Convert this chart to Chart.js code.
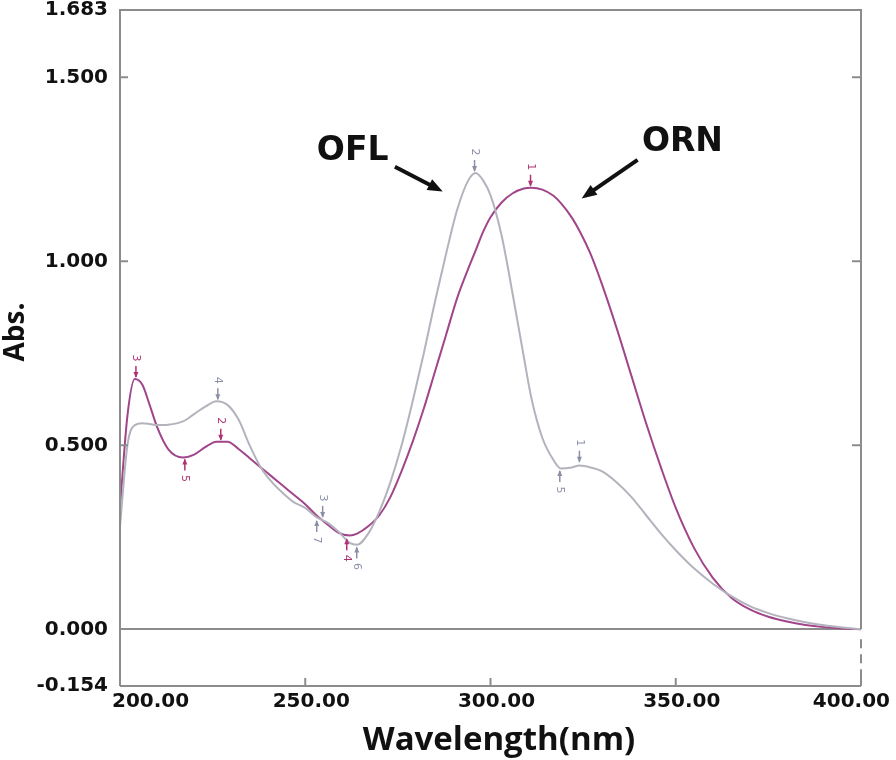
<!DOCTYPE html>
<html>
<head>
<meta charset="utf-8">
<title>OFL / ORN absorption spectra</title>
<script src="https://cdn.jsdelivr.net/npm/chart.js@4.4.1/dist/chart.umd.min.js"></script>
<style>
    html, body { margin: 0; padding: 0; background: #fff; }
    #wrap { width: 896px; height: 760px; position: relative; }
</style>
</head>
<body>
<div id="wrap"><canvas id="spectrumChart"></canvas></div>
<script>
// Wavelength grid (nm) shared by both spectra
const wavelengths = [200, 202, 204, 206, 208, 210, 213, 217, 220, 223, 226, 229, 232, 235, 238, 241, 244, 247, 250, 253,
    256, 259, 262, 264, 267, 270, 273, 276, 279, 282, 285, 288, 291, 294, 296, 298, 300, 303, 306, 309,
    311, 314, 317, 319, 322, 324, 327, 330, 334, 338, 342, 346, 350, 355, 360, 365, 370, 375, 380, 385,
    390, 395, 400];

// OFL (grey trace)
const oflAbs = [0.28, 0.50, 0.555, 0.56, 0.558, 0.555, 0.556, 0.565, 0.585, 0.605, 0.62, 0.61, 0.57, 0.50, 0.44, 0.40, 0.37, 0.345, 0.33, 0.305,
    0.29, 0.265, 0.235, 0.23, 0.26, 0.32, 0.40, 0.50, 0.62, 0.75, 0.89, 1.02, 1.14, 1.22, 1.24, 1.22, 1.18, 1.07, 0.91, 0.74,
    0.63, 0.52, 0.46, 0.437, 0.44, 0.445, 0.44, 0.43, 0.40, 0.36, 0.31, 0.26, 0.215, 0.165, 0.124, 0.09, 0.063, 0.044, 0.03, 0.019,
    0.011, 0.005, 0.0];

// ORN (magenta trace)
const ornAbs = [0.33, 0.58, 0.68, 0.665, 0.61, 0.55, 0.49, 0.467, 0.475, 0.495, 0.51, 0.51, 0.49, 0.465, 0.44, 0.415, 0.39, 0.365, 0.34, 0.31,
    0.285, 0.262, 0.255, 0.26, 0.28, 0.31, 0.36, 0.43, 0.51, 0.60, 0.70, 0.80, 0.90, 0.98, 1.03, 1.08, 1.12, 1.16, 1.185, 1.198,
    1.20, 1.195, 1.178, 1.158, 1.118, 1.083, 1.02, 0.94, 0.82, 0.69, 0.56, 0.44, 0.33, 0.22, 0.14, 0.086, 0.054, 0.034, 0.021, 0.012,
    0.006, 0.002, 0.0];

// Axis ticks
const xTicks = [200, 250, 300, 350, 400];
const yTicks = [-0.154, 0, 0.5, 1.0, 1.5, 1.683];

// Peak / valley picks printed by the instrument
const oflPickLabels = ['1', '2', '3', '4', '5', '6', '7'];
const oflPickWl = [324, 295.7, 254.7, 226.4, 318.7, 263.9, 253.1];
const oflPickAbs = [0.45, 1.24, 0.30, 0.62, 0.436, 0.228, 0.30];
const oflPickType = ['peak', 'peak', 'peak', 'peak', 'valley', 'valley', 'valley'];

const ornPickLabels = ['1', '2', '3', '4', '5'];
const ornPickWl = [310.8, 227.2, 204.3, 261.2, 217.5];
const ornPickAbs = [1.20, 0.51, 0.68, 0.25, 0.467];
const ornPickType = ['peak', 'peak', 'peak', 'valley', 'valley'];

// Callouts (data units)
const calloutText = ['OFL', 'ORN'];
const calloutTextAt = [[262.8, 1.298], [351.8, 1.322]];
const calloutArrowFrom = [[274.2, 1.257], [339.7, 1.276]];
const calloutArrowTo = [[287.1, 1.190], [324.6, 1.171]];

const GREY = '#b3b3bd';
const MAGENTA = '#a1458a';
const FRAME = '#8c8c8c';
const tickFont = { family: '"DejaVu Sans"', size: 20, weight: 'bold' };

function toPoints(ys) {
    return wavelengths.map((w, i) => ({ x: w, y: ys[i] }));
}

// Frame, dashed right edge below zero, inward tick marks and x tick labels
const framePlugin = {
    id: 'frame',
    afterDraw(chart) {
        const { ctx, chartArea: a, scales: { x, y } } = chart;
        const zeroY = y.getPixelForValue(0);
        ctx.save();
        ctx.strokeStyle = FRAME;
        ctx.lineWidth = 2;
        ctx.beginPath();
        ctx.moveTo(a.left, a.bottom);
        ctx.lineTo(a.left, a.top);
        ctx.lineTo(a.right, a.top);
        ctx.lineTo(a.right, zeroY);
        ctx.moveTo(a.left, a.bottom);
        ctx.lineTo(a.right, a.bottom);
        ctx.stroke();

        ctx.setLineDash([9, 6]);
        ctx.beginPath();
        ctx.moveTo(a.right, zeroY + 10);
        ctx.lineTo(a.right, a.bottom);
        ctx.stroke();
        ctx.setLineDash([]);

        ctx.beginPath();
        yTicks.forEach(v => {
            if (v === y.min || v === y.max || v === 0) return;
            const py = y.getPixelForValue(v);
            ctx.moveTo(a.left, py);
            ctx.lineTo(a.left + 8, py);
            ctx.moveTo(a.right, py);
            ctx.lineTo(a.right - 9, py);
        });
        xTicks.forEach(v => {
            if (v === x.min) return;
            const px = x.getPixelForValue(v);
            ctx.moveTo(px, a.bottom);
            ctx.lineTo(px, a.bottom - 8);
        });
        ctx.stroke();

        // x tick labels, nudged inside the page at both ends
        ctx.fillStyle = '#111';
        ctx.font = 'bold 20px "DejaVu Sans"';
        ctx.textAlign = 'center';
        ctx.textBaseline = 'middle';
        xTicks.forEach(v => {
            const text = v.toFixed(2);
            const w = ctx.measureText(text).width;
            let cx = x.getPixelForValue(v) + 6;
            cx = Math.max(cx, a.left - 8 + w / 2);
            cx = Math.min(cx, chart.width - 6 - w / 2);
            ctx.fillText(text, cx, a.bottom + 16);
        });
        ctx.restore();
    }
};

// Axis titles, placed like the instrument printout
const titlePlugin = {
    id: 'axisTitles',
    afterDraw(chart) {
        const { ctx } = chart;
        ctx.save();
        ctx.fillStyle = '#111';
        ctx.textAlign = 'center';
        ctx.textBaseline = 'middle';
        ctx.font = 'bold 33px "Open Sans"';
        ctx.fillText('Wavelength(nm)', 499, 741);
        ctx.translate(16, 332);
        ctx.rotate(-Math.PI / 2);
        ctx.font = 'bold 28px "Open Sans"';
        ctx.fillText('Abs.', 0, 0);
        ctx.restore();
    }
};

// Small arrow + rotated number for each pick
function drawPicks(chart, labels, wls, vals, types, color) {
    const { ctx, scales: { x, y } } = chart;
    ctx.save();
    ctx.strokeStyle = color;
    ctx.fillStyle = color;
    ctx.lineWidth = 1.5;
    ctx.font = '11px "DejaVu Sans"';
    ctx.textAlign = 'center';
    ctx.textBaseline = 'middle';
    labels.forEach((lab, i) => {
        const px = x.getPixelForValue(wls[i]);
        const py = y.getPixelForValue(vals[i]);
        const dir = types[i] === 'peak' ? -1 : 1;
        ctx.beginPath();
        ctx.moveTo(px, py + dir * 13);
        ctx.lineTo(px, py + dir * 2);
        ctx.stroke();
        ctx.beginPath();
        ctx.moveTo(px, py + dir * 1);
        ctx.lineTo(px - 2.5, py + dir * 7);
        ctx.lineTo(px + 2.5, py + dir * 7);
        ctx.closePath();
        ctx.fill();
        ctx.save();
        ctx.translate(px, py + dir * 21);
        ctx.rotate(Math.PI / 2);
        ctx.fillText(lab, 0, 0);
        ctx.restore();
    });
    ctx.restore();
}

const picksPlugin = {
    id: 'picks',
    afterDatasetsDraw(chart) {
        drawPicks(chart, oflPickLabels, oflPickWl, oflPickAbs, oflPickType, '#8b90a8');
        drawPicks(chart, ornPickLabels, ornPickWl, ornPickAbs, ornPickType, '#b03273');
    }
};

const calloutPlugin = {
    id: 'callouts',
    afterDraw(chart) {
        const { ctx, scales: { x, y } } = chart;
        ctx.save();
        ctx.fillStyle = '#111';
        ctx.strokeStyle = '#111';
        ctx.font = 'bold 33px "DejaVu Sans"';
        ctx.textAlign = 'center';
        ctx.textBaseline = 'middle';
        calloutText.forEach((t, i) => {
            ctx.fillText(t, x.getPixelForValue(calloutTextAt[i][0]), y.getPixelForValue(calloutTextAt[i][1]));

            const x0 = x.getPixelForValue(calloutArrowFrom[i][0]);
            const y0 = y.getPixelForValue(calloutArrowFrom[i][1]);
            const x1 = x.getPixelForValue(calloutArrowTo[i][0]);
            const y1 = y.getPixelForValue(calloutArrowTo[i][1]);
            const ang = Math.atan2(y1 - y0, x1 - x0);
            const head = 15;
            ctx.lineWidth = 4;
            ctx.beginPath();
            ctx.moveTo(x0, y0);
            ctx.lineTo(x1 - Math.cos(ang) * head * 0.8, y1 - Math.sin(ang) * head * 0.8);
            ctx.stroke();
            ctx.beginPath();
            ctx.moveTo(x1, y1);
            ctx.lineTo(x1 - head * Math.cos(ang) + 6 * Math.sin(ang), y1 - head * Math.sin(ang) - 6 * Math.cos(ang));
            ctx.lineTo(x1 - head * Math.cos(ang) - 6 * Math.sin(ang), y1 - head * Math.sin(ang) + 6 * Math.cos(ang));
            ctx.closePath();
            ctx.fill();
        });
        ctx.restore();
    }
};

const spectrumCtx = document.getElementById('spectrumChart').getContext('2d');
const spectrumChart = new Chart(spectrumCtx, {
    type: 'line',
    data: {
        datasets: [
            {
                label: 'OFL',
                data: toPoints(oflAbs),
                borderColor: GREY,
                borderWidth: 2,
                pointRadius: 0,
                cubicInterpolationMode: 'monotone',
                fill: false
            },
            {
                label: 'ORN',
                data: toPoints(ornAbs),
                borderColor: MAGENTA,
                borderWidth: 2,
                pointRadius: 0,
                cubicInterpolationMode: 'monotone',
                fill: false
            }
        ]
    },
    options: {
        responsive: true,
        maintainAspectRatio: false,
        animation: false,
        layout: {
            padding: { top: 10, right: 35, left: 0, bottom: 0 }
        },
        scales: {
            x: {
                type: 'linear',
                min: 200,
                max: 400,
                afterBuildTicks: function(scale) {
                    scale.ticks = xTicks.map(v => ({ value: v }));
                },
                afterFit: function(scale) {
                    scale.height = 74;
                    scale.paddingLeft = 0;
                    scale.paddingRight = 0;
                },
                grid: { display: false },
                border: { display: false },
                ticks: { display: false }
            },
            y: {
                min: -0.154,
                max: 1.683,
                afterBuildTicks: function(scale) {
                    scale.ticks = yTicks.map(v => ({ value: v }));
                },
                afterFit: function(scale) {
                    scale.width = 120;
                    scale.paddingTop = 0;
                    scale.paddingBottom = 0;
                },
                grid: {
                    drawTicks: false,
                    lineWidth: 2,
                    color: function(context) {
                        return context.tick && context.tick.value === 0 ? FRAME : 'rgba(0,0,0,0)';
                    }
                },
                border: { display: false },
                ticks: {
                    color: '#111',
                    font: tickFont,
                    padding: 12,
                    callback: function(value) {
                        return Number(value).toFixed(3);
                    }
                }
            }
        },
        plugins: {
            legend: { display: false },
            tooltip: { enabled: false }
        }
    },
    plugins: [framePlugin, picksPlugin, calloutPlugin, titlePlugin]
});
</script>
</body>
</html>
